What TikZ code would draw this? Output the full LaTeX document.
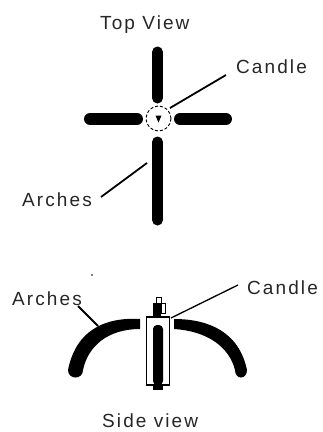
\documentclass[tikz,border=0pt]{standalone}
\usepackage{fontspec}
\setmainfont[LetterSpace=11]{Liberation Sans}
\begin{document}
\begin{tikzpicture}[x=1pt,y=-1pt,
  lbl/.style={font=\fontsize{19}{21}\selectfont,inner sep=0pt,text=black!85,anchor=base west},
  bar/.style={line width=11pt,line cap=round},
  leader/.style={line width=1.8pt}]
\useasboundingbox (0,0) rectangle (323,432);
\fill[white] (0,0) rectangle (323,432);
% top view
\node[lbl] (topt) at (100,29) {Top View};
\node[lbl] (c1) at (236,73) {Candle};
\node[lbl] (a1) at (22,206) {Arches};
\draw[bar] (157.5,52) -- (157.5,98);
\draw[bar] (157.5,142) -- (157.5,220);
\draw[bar,line width=12pt] (90,119) -- (137,119);
\draw[bar,line width=12pt] (180,119) -- (226,119);
\node[circle,draw,densely dashed,line width=0.9pt,minimum size=25pt,inner sep=0pt] (ring) at (158.5,118.5) {};
\fill (155.5,115.5) -- (161.5,115.5) -- (158.5,122.5) -- cycle;
\coordinate (c1e) at (226,75);
\coordinate (c1s) at (170,108);
\coordinate (a1e) at (147,163);
\coordinate (a1s) at (101,197);
\draw[leader] (c1s) -- (c1e);
\draw[leader] (a1s) -- (a1e);
% side view
\fill (92,275) circle (0.8pt);
\node[lbl] (c2) at (247,294) {Candle};
\node[lbl] (a2) at (12,305) {Arches};
\node[lbl] (sidet) at (102,427) {Side view};
\fill (140,319) .. controls (105,317) and (76,330) .. (68,370)
  .. controls (68,380) and (83,380) .. (83,370)
  .. controls (88,346) and (108,329) .. (140,329) -- cycle;
\fill (174,319) .. controls (209,319) and (239,332) .. (247,370)
  .. controls (247,380) and (235,380) .. (235,370)
  .. controls (229,346) and (206,331) .. (174,329) -- cycle;
\node[draw,line width=1.2pt,fill=white,minimum width=23pt,minimum height=68pt,inner sep=0pt] (body) at (158,351) {};
\fill[rounded corners=4pt] (153,385) -- (153,325) -- (163,325) -- (163,385) -- cycle;
\fill (153,385) rectangle (163,390);
\fill (153,303) rectangle (161,316);
\node[draw,line width=1pt,minimum width=5pt,minimum height=6pt,inner sep=0pt] (wick) at (158.5,300) {};
\node[draw,line width=1pt,minimum width=4pt,minimum height=10pt,inner sep=0pt] (flag) at (163,308) {};
\coordinate (c2s) at (171,318);
\coordinate (c2e) at (238,285);
\coordinate (a2s) at (78,306);
\coordinate (a2e) at (98,326);
\draw[leader,line width=1.3pt] (c2s) -- (c2e);
\draw[leader] (a2s) -- (a2e);
\end{tikzpicture}
\end{document}
